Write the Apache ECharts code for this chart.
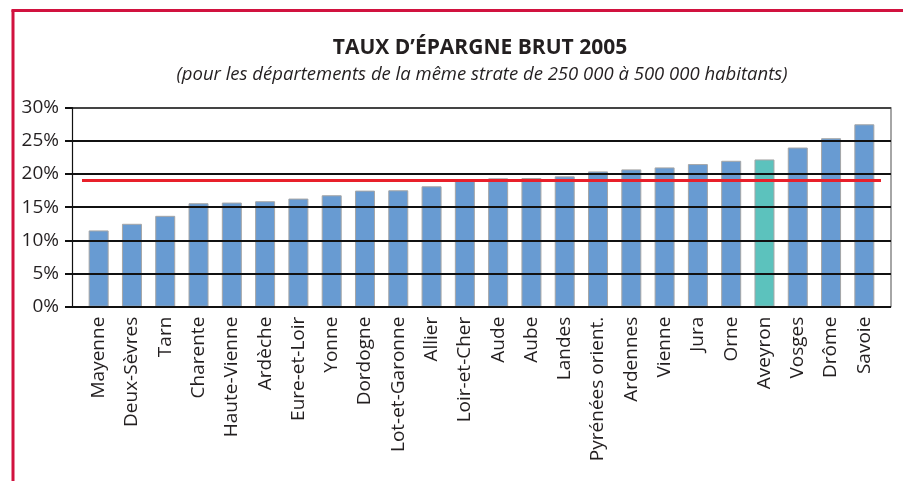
<!DOCTYPE html>
<html>
<head>
<meta charset="utf-8">
<script src="https://cdn.jsdelivr.net/npm/echarts@6/dist/echarts.min.js"></script>
<style>
    html, body { margin: 0; padding: 0; background: #fff; }
    #chart { width: 903px; height: 481px; }
</style>
</head>
<body>
<div id="chart"></div>
<script>
// départements, triés par taux d'épargne brut
const departements = ['Mayenne', 'Deux-Sèvres', 'Tarn', 'Charente', 'Haute-Vienne', 'Ardèche',
    'Eure-et-Loir', 'Yonne', 'Dordogne', 'Lot-et-Garonne', 'Allier', 'Loir-et-Cher', 'Aude',
    'Aube', 'Landes', 'Pyrénées orient.', 'Ardennes', 'Vienne', 'Jura', 'Orne', 'Aveyron',
    'Vosges', 'Drôme', 'Savoie'];
const tauxEpargne = [11.5, 12.5, 13.7, 15.6, 15.7, 15.9, 16.3, 16.8, 17.5, 17.55, 18.15, 19.2,
    19.35, 19.4, 19.65, 20.4, 20.7, 21.0, 21.5, 22.0, 22.2, 24.0, 25.4, 27.5];
const moyenne = 19.1;
const enEvidence = 'Aveyron';
const yTicks = [0, 5, 10, 15, 20, 25, 30];

const chart = echarts.init(document.getElementById('chart'));

const barData = departements.map(function (d, i) {
    if (d === enEvidence) {
        return { value: tauxEpargne[i], itemStyle: { color: '#5cc2bd' } };
    }
    return tauxEpargne[i];
});

const gridTop = 107.7, gridBottom = 481 - 306.7;

chart.setOption({
    animation: false,
    graphic: [
        { type: 'line', shape: { x1: 13, y1: 10, x2: 13, y2: 481 }, style: { stroke: '#d1123f', lineWidth: 3 } },
        { type: 'line', shape: { x1: 11.5, y1: 10.5, x2: 903, y2: 10.5 }, style: { stroke: '#d1123f', lineWidth: 3 } },
        { type: 'text', x: 480, y: 48, style: { text: 'TAUX D’ÉPARGNE BRUT 2005', align: 'center', verticalAlign: 'middle', font: 'bold 21px "Open Sans"', fill: '#231f20' } },
        { type: 'text', x: 482, y: 75, style: { text: '(pour les départements de la même strate de 250 000 à 500 000 habitants)', align: 'center', verticalAlign: 'middle', font: 'italic 18.5px "Open Sans"', fill: '#231f20' } }
    ],
    grid: [
        { left: 72, right: 12, top: gridTop, bottom: gridBottom },
        { left: 82, right: 22, top: gridTop, bottom: gridBottom }
    ],
    xAxis: [
        {
            gridIndex: 0, type: 'category', data: departements,
            axisLine: { show: false }, axisTick: { show: false }, axisLabel: { show: false }
        },
        {
            gridIndex: 1, type: 'category', data: departements,
            axisLine: { show: false }, axisTick: { show: false },
            axisLabel: { rotate: 90, interval: 0, margin: 10, fontSize: 19, color: '#231f20', fontFamily: 'Open Sans' }
        }
    ],
    yAxis: [
        {
            gridIndex: 0, type: 'value', min: 0, max: 30, interval: 5, z: 3,
            axisLine: { show: true, lineStyle: { color: '#111', width: 1.2 } },
            axisTick: { show: true, length: 7, lineStyle: { color: '#111', width: 2 } },
            axisLabel: {
                fontSize: 19, color: '#231f20', fontFamily: 'Open Sans', margin: 13,
                formatter: function (v) { return yTicks.indexOf(v) >= 0 ? v + '%' : ''; }
            },
            splitLine: { show: true, lineStyle: { color: ['#111', '#111', '#111', '#111', '#111', '#111', '#444'], width: 2 } }
        },
        {
            gridIndex: 0, type: 'value', position: 'right', min: 0, max: 30, interval: 5,
            axisLine: { show: true, lineStyle: { color: '#888', width: 1.5 } },
            axisTick: { show: false }, axisLabel: { show: false }, splitLine: { show: false }
        },
        { gridIndex: 1, type: 'value', min: 0, max: 30, show: false }
    ],
    series: [{
        type: 'bar',
        xAxisIndex: 1,
        yAxisIndex: 2,
        barWidth: 20,
        data: barData,
        itemStyle: { color: '#689bd2', borderColor: '#a6a6a6', borderWidth: 1 },
        markLine: {
            silent: true,
            symbol: 'none',
            label: { show: false },
            lineStyle: { color: '#e8202a', width: 3, type: 'solid' },
            data: [{ yAxis: moyenne }]
        }
    }]
});
</script>
</body>
</html>
